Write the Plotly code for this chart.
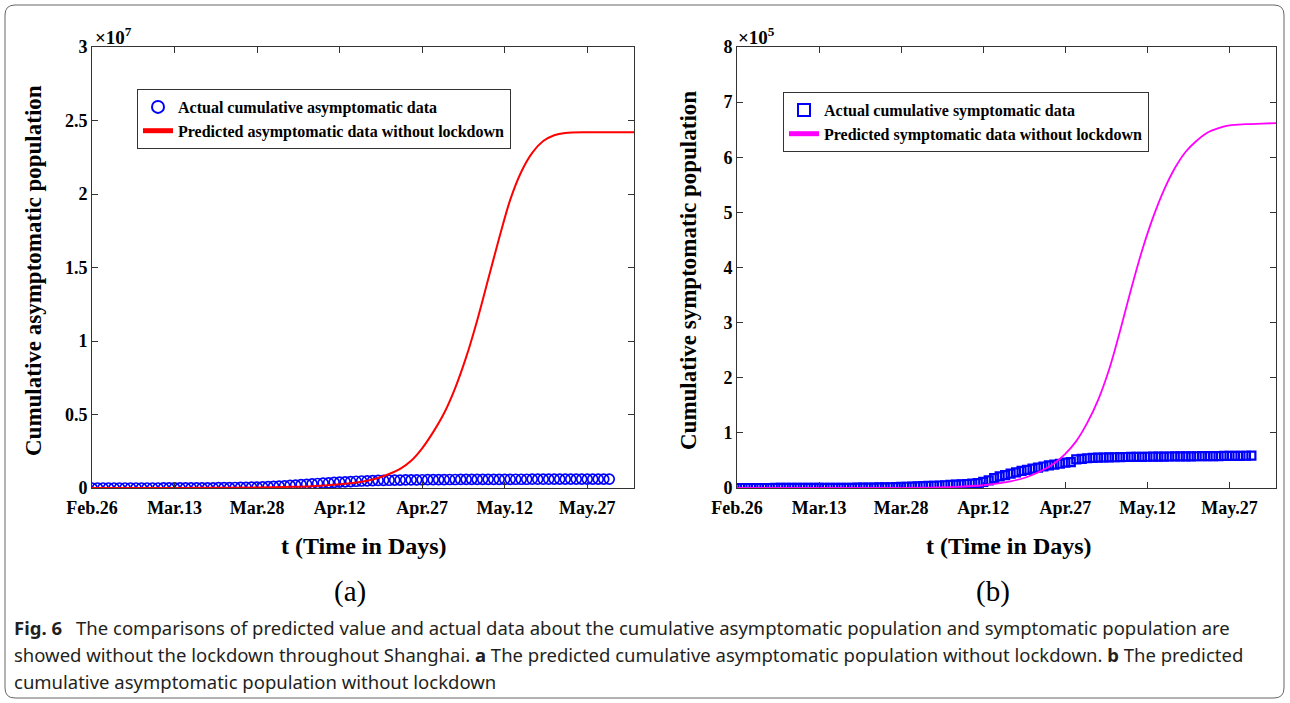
import plotly.graph_objects as go

# ---------------- data ----------------
tick_days = [0, 15, 30, 45, 60, 75, 90]
tick_labels = ["Feb.26", "Mar.13", "Mar.28", "Apr.12", "Apr.27", "May.12", "May.27"]

actual_days = list(range(0, 95))
# cumulative asymptomatic (thousands)
asym_actual_k = [
    0.1, 0.1, 0.2, 0.2, 0.3, 0.3, 0.4, 0.5, 0.6, 0.8,
    1, 1.3, 1.6, 2, 2.5, 3, 4, 5, 6.5, 8,
    10, 12, 15, 19, 24, 29, 35, 41, 48, 54,
    60, 75, 92, 110, 130, 150, 175, 200, 225, 252,
    280, 305, 330, 355, 378, 400, 420, 440, 458, 475,
    490, 502, 512, 521, 528, 535, 541, 546, 550, 555,
    560, 564, 568, 571, 574, 577, 579, 581, 583, 585,
    586, 588, 589, 590, 591, 592, 593, 594, 595, 596,
    597, 597, 598, 598, 599, 599, 600, 600, 601, 601,
    602, 602, 603, 603, 604,
]
# cumulative symptomatic (thousands)
sym_actual_k = [
    0.01, 0.01, 0.02, 0.02, 0.03, 0.03, 0.04, 0.05, 0.05, 0.06,
    0.07, 0.08, 0.09, 0.1, 0.12, 0.14, 0.16, 0.2, 0.25, 0.3,
    0.35, 0.4, 0.5, 0.6, 0.7, 0.8, 1, 1.2, 1.4, 1.7,
    2, 2.3, 2.6, 3, 3.3, 3.7, 4.1, 4.5, 5, 5.5,
    6, 6.6, 7.3, 8, 9, 11, 14, 18, 21, 23.5,
    26, 28.5, 31, 33, 35, 37, 39, 41, 42.5, 44,
    46, 47, 52, 53, 54, 54.5, 55, 55.3, 55.6, 55.8,
    56, 56.2, 56.4, 56.5, 56.6, 56.7, 56.8, 56.9, 57, 57.1,
    57.2, 57.3, 57.4, 57.5, 57.6, 57.7, 57.8, 57.9, 58, 58.1,
    58.2, 58.3, 58.4, 58.5, 58.6,
]

# predicted asymptomatic without lockdown (millions)
asym_pred_days = [0, 10, 20, 30, 35, 40, 45, 50, 52, 54, 56, 58, 60, 62, 64, 66, 68, 70,
                  72, 74, 76, 78, 80, 82, 84, 86, 90, 98.5]
asym_pred_m = [0, 0.005, 0.01, 0.04, 0.07, 0.12, 0.25, 0.5, 0.68, 0.95, 1.3, 1.85, 2.7, 3.8,
               5.1, 6.8, 8.9, 11.4, 14.2, 17.0, 19.6, 21.5, 22.8, 23.6, 24.0, 24.15, 24.2, 24.2]

# predicted symptomatic without lockdown (thousands)
sym_pred_days = [0, 10, 20, 30, 35, 40, 45, 50, 53, 56, 58, 60, 62, 64, 66, 68, 70, 72, 74,
                 76, 78, 80, 82, 84, 86, 88, 90, 93, 96, 98.5]
sym_pred_k = [0, 0.05, 0.1, 0.4, 0.8, 2, 5, 12, 20, 33, 45, 62, 85, 118, 160, 215, 285, 360,
              430, 490, 540, 580, 610, 630, 645, 653, 658, 660, 661, 662]

ya_ticks = [0, 0.5e7, 1e7, 1.5e7, 2e7, 2.5e7, 3e7]
ya_labels = ["0", "0.5", "1", "1.5", "2", "2.5", "3"]
yb_ticks = [i * 1e5 for i in range(9)]
yb_labels = [str(i) for i in range(9)]

# ---------------- figure ----------------
W, H = 1290, 703
def px(x):
    return x / W
def py(y):
    return 1 - y / H

SERIF = "Liberation Serif"
fig = go.Figure()

fig.add_trace(go.Scatter(
    x=actual_days, y=[v * 1e3 for v in asym_actual_k], mode="markers",
    name="<b>Actual cumulative asymptomatic data</b>",
    marker=dict(symbol="circle-open", size=10, color="#0000ff", line=dict(width=1.7, color="#0000ff")),
    xaxis="x", yaxis="y", legend="legend"))
fig.add_trace(go.Scatter(
    x=asym_pred_days, y=[v * 1e6 for v in asym_pred_m], mode="lines",
    name="<b>Predicted asymptomatic data without lockdown</b>",
    line=dict(color="#ff0000", width=2.0, shape="spline", smoothing=0.9),
    xaxis="x", yaxis="y", legend="legend"))

fig.add_trace(go.Scatter(
    x=actual_days, y=[v * 1e3 for v in sym_actual_k], mode="markers",
    name="<b>Actual cumulative symptomatic data</b>",
    marker=dict(symbol="square-open", size=8, color="#0000ff", line=dict(width=2.2, color="#0000ff")),
    xaxis="x2", yaxis="y2", legend="legend2"))
fig.add_trace(go.Scatter(
    x=sym_pred_days, y=[v * 1e3 for v in sym_pred_k], mode="lines",
    name="<b>Predicted symptomatic data without lockdown</b>",
    line=dict(color="#ff00ff", width=1.8, shape="spline", smoothing=0.9),
    xaxis="x2", yaxis="y2", legend="legend2"))

tickfont = dict(family=SERIF, size=18, color="#000", weight="bold")
common_x = dict(range=[0, 98.5], tickvals=tick_days, ticktext=tick_labels, ticks="inside",
                ticklen=6, tickcolor="#333", showline=True, linecolor="#333", linewidth=1,
                mirror="ticks", showgrid=False, zeroline=False, tickfont=tickfont,
                automargin=False, ticklabelstandoff=3)
common_y = dict(ticks="inside", ticklen=6, tickcolor="#333", showline=True, linecolor="#333",
                linewidth=1, mirror="ticks", showgrid=False, zeroline=False, tickfont=tickfont,
                automargin=False, domain=[py(488), py(47)])

legfont = dict(family=SERIF, size=16, color="#000")
fig.update_layout(
    width=W, height=H, template="none",
    margin=dict(l=0, r=0, t=0, b=0),
    paper_bgcolor="white", plot_bgcolor="white",
    showlegend=True,
    xaxis=dict(common_x, domain=[px(92), px(634)], anchor="y"),
    yaxis=dict(common_y, range=[0, 3e7], tickvals=ya_ticks, ticktext=ya_labels, anchor="x"),
    xaxis2=dict(common_x, domain=[px(737), px(1276)], anchor="y2"),
    yaxis2=dict(common_y, range=[0, 8e5], tickvals=yb_ticks, ticktext=yb_labels, anchor="x2"),
    legend=dict(x=px(137), y=py(89), xanchor="left", yanchor="top", bgcolor="white",
                bordercolor="#333", borderwidth=1, font=legfont, itemwidth=30,
                tracegroupgap=0, itemsizing="constant"),
    legend2=dict(x=px(783), y=py(92), xanchor="left", yanchor="top", bgcolor="white",
                 bordercolor="#333", borderwidth=1, font=legfont, itemwidth=30,
                 tracegroupgap=0, itemsizing="constant"),
)

ann = []
def add(text, x, y, size, xanchor="center", yanchor="middle", angle=0, family=SERIF, color="#000"):
    ann.append(dict(text=text, x=x, y=y, xref="paper", yref="paper", showarrow=False,
                    xanchor=xanchor, yanchor=yanchor, textangle=angle,
                    font=dict(family=family, size=size, color=color)))

add("<b>Cumulative asymptomatic population</b>", px(33), py(271), 23, angle=-90)
add("<b>Cumulative symptomatic population</b>", px(688), py(271), 23, angle=-90)
add("<b>t (Time in Days)</b>", px(364), py(546), 24)
add("<b>t (Time in Days)</b>", px(1009), py(546), 24)
add("(a)", px(350), py(591), 29)
add("(b)", px(993), py(591), 29)
add("<b>×10<sup>7</sup></b>", px(93), py(36), 19, xanchor="left")
add("<b>×10<sup>5</sup></b>", px(736), py(36), 19, xanchor="left")

CAP = "Noto Sans"
add("<b>Fig. 6</b>\u2002 The comparisons of predicted value and actual data about the cumulative asymptomatic population and symptomatic population are",
    px(12), py(627), 18.5, xanchor="left", family=CAP, color="#231f20")
add("showed without the lockdown throughout Shanghai. <b>a</b> The predicted cumulative asymptomatic population without lockdown. <b>b</b> The predicted",
    px(12), py(654), 18.5, xanchor="left", family=CAP, color="#231f20")
add("cumulative asymptomatic population without lockdown",
    px(12), py(681), 18.5, xanchor="left", family=CAP, color="#231f20")
fig.update_layout(annotations=ann)

# rounded outer frame
x0, y0, x1, y1, r = 5, 5, 1284, 698, 10
path = (f"M {px(x0+r)},{py(y0)} L {px(x1-r)},{py(y0)} Q {px(x1)},{py(y0)} {px(x1)},{py(y0+r)} "
        f"L {px(x1)},{py(y1-r)} Q {px(x1)},{py(y1)} {px(x1-r)},{py(y1)} "
        f"L {px(x0+r)},{py(y1)} Q {px(x0)},{py(y1)} {px(x0)},{py(y1-r)} "
        f"L {px(x0)},{py(y0+r)} Q {px(x0)},{py(y0)} {px(x0+r)},{py(y0)} Z")
fig.add_shape(type="path", path=path, xref="paper", yref="paper",
              line=dict(color="#666", width=1), fillcolor="rgba(0,0,0,0)")

fig.write_html("out.html", config={"displayModeBar": False},
               post_script="document.body.style.margin='0';document.body.style.overflow='hidden';")
